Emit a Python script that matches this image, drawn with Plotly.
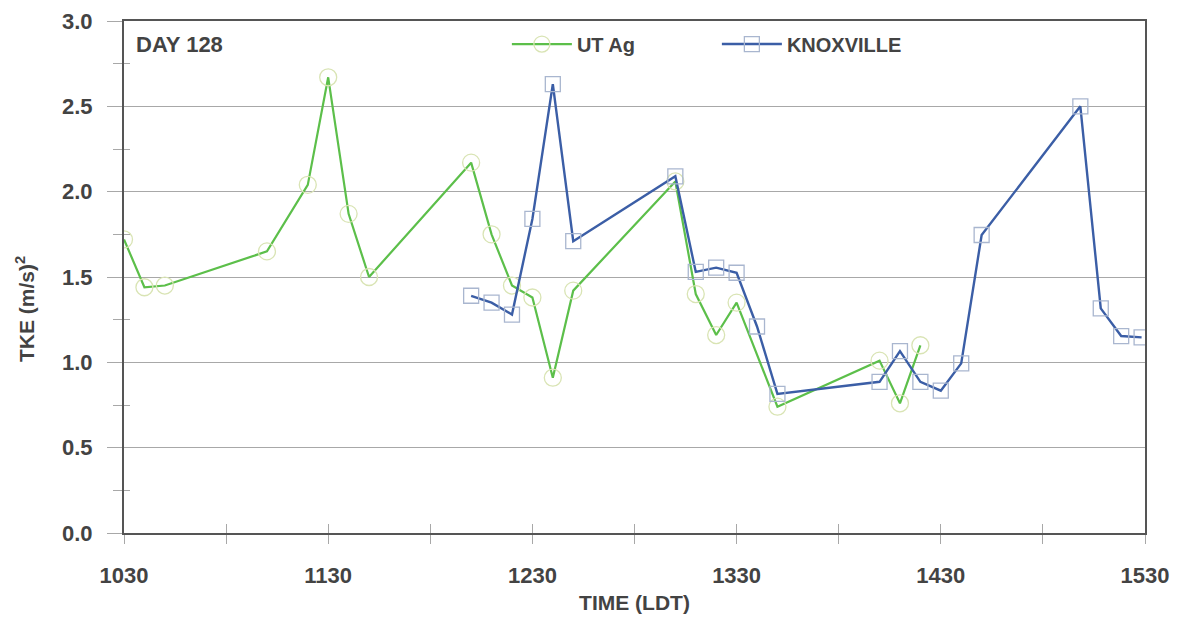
import plotly.graph_objects as go

# ---- data (times in HHMM local daylight time, TKE in (m/s)^2) ----
utag_time = [1030, 1036, 1042, 1112, 1124, 1130, 1136, 1142, 1212, 1218, 1224,
             1230, 1236, 1242, 1312, 1318, 1324, 1330, 1342, 1412, 1418, 1424]
utag_tke = [1.72, 1.44, 1.45, 1.65, 2.04, 2.67, 1.87, 1.50, 2.17, 1.75, 1.45,
            1.38, 0.91, 1.42, 2.06, 1.40, 1.16, 1.35, 0.74, 1.01, 0.76, 1.10]

knox_time = [1212, 1218, 1224, 1230, 1236, 1242, 1312, 1318, 1324, 1330, 1336,
             1342, 1412, 1418, 1424, 1430, 1436, 1442, 1511, 1517, 1523, 1529]
knox_tke = [1.39, 1.35, 1.28, 1.84, 2.63, 1.71, 2.09, 1.53, 1.555, 1.525, 1.21,
            0.815, 0.886, 1.066, 0.886, 0.834, 0.994, 1.746, 2.50, 1.316, 1.154, 1.146]

tick_labels = ["1030", "1130", "1230", "1330", "1430", "1530"]
y_ticks = [0.0, 0.5, 1.0, 1.5, 2.0, 2.5, 3.0]
y_minor = [0.25, 0.75, 1.25, 1.75, 2.25, 2.75]


def to_min(hhmm):
    return (hhmm // 100) * 60 + hhmm % 100 - 630


tick_vals = [to_min(int(t)) for t in tick_labels]
half_vals = [v + 30 for v in tick_vals[:-1]]
all_x_ticks = tick_vals + half_vals

FONT = "Liberation Sans, Arial, sans-serif"
TXT = "#434343"
GRID = "#a8a8a8"
AX = "#555555"

fig = go.Figure()
fig.add_trace(go.Scatter(
    x=[to_min(t) for t in utag_time], y=utag_tke, name="UT Ag",
    mode="lines+markers",
    line=dict(color="#5cbf4a", width=2.2),
    marker=dict(symbol="circle-open", size=17, color="#d9e4b4", line=dict(width=1.3)),
))
fig.add_trace(go.Scatter(
    x=[to_min(t) for t in knox_time], y=knox_tke, name="KNOXVILLE",
    mode="lines+markers",
    line=dict(color="#3b5ea6", width=2.4),
    marker=dict(symbol="square-open", size=15, color="#a9b6cf", line=dict(width=1.3)),
))

fig.update_layout(
    width=1177, height=619,
    margin=dict(l=124, r=32, t=21, b=86),
    paper_bgcolor="white", plot_bgcolor="white",
    font=dict(family=FONT, color=TXT, size=20),
    showlegend=True,
    legend=dict(orientation="h", x=0.375, y=0.955, xanchor="left", yanchor="middle",
                font=dict(family=FONT, size=20, color=TXT, weight="bold"),
                bgcolor="rgba(0,0,0,0)", itemwidth=60, entrywidth=135,
                tracegroupgap=0),
    xaxis=dict(
        range=[0, 300], tickvals=tick_vals, ticktext=tick_labels,
        ticks="outside", ticklen=9, tickcolor=GRID, tickwidth=1,
        minor=dict(tickvals=half_vals, ticks="outside", ticklen=9,
                   tickcolor=GRID, showgrid=False),
        ticklabelstandoff=13, automargin=False,
        showgrid=False, zeroline=False,
        showline=True, linecolor=AX, linewidth=2, mirror=False,
        tickfont=dict(family=FONT, size=22, color=TXT, weight="bold"),
        title=dict(text="TIME (LDT)", standoff=8,
                   font=dict(family=FONT, size=21, color=TXT, weight="bold")),
    ),
    xaxis2=dict(
        range=[0, 300], overlaying="x", side="bottom", anchor="y",
        tickvals=all_x_ticks, showticklabels=False, automargin=False,
        ticks="inside", ticklen=9, tickcolor=GRID, tickwidth=1,
        showgrid=False, zeroline=False, showline=False,
    ),
    yaxis=dict(
        range=[0, 3.0], tickvals=y_ticks,
        ticktext=[f"{v:.1f}" for v in y_ticks],
        ticks="outside", ticklen=15, tickcolor=GRID, tickwidth=1,
        minor=dict(tickvals=y_minor, ticks="outside", ticklen=9,
                   tickcolor=GRID, showgrid=False),
        ticklabelstandoff=10, automargin=False,
        showgrid=True, gridcolor=GRID, gridwidth=1.2,
        zeroline=False, showline=True, linecolor=AX, linewidth=2,
        tickfont=dict(family=FONT, size=22, color=TXT, weight="bold"),
    ),
    yaxis2=dict(
        range=[0, 3.0], overlaying="y", side="left", anchor="x",
        tickvals=y_minor, showticklabels=False, ticks="inside", ticklen=6,
        tickcolor=GRID, showgrid=False, zeroline=False, showline=False,
        automargin=False,
    ),
    yaxis3=dict(
        range=[0, 3.0], overlaying="y", side="right", anchor="x",
        showticklabels=False, ticks="", showgrid=False, zeroline=False,
        showline=True, linecolor=AX, linewidth=2, automargin=False,
    ),
    xaxis3=dict(
        range=[0, 300], overlaying="x", side="top", anchor="y",
        showticklabels=False, ticks="", showgrid=False, zeroline=False,
        showline=True, linecolor=AX, linewidth=2, automargin=False,
    ),
)

# invisible helper traces so overlay axes are rendered
fig.add_trace(go.Scatter(x=[0], y=[0], xaxis="x2", yaxis="y2", mode="markers",
                         marker=dict(opacity=0), showlegend=False, hoverinfo="skip"))
fig.add_trace(go.Scatter(x=[0], y=[0], xaxis="x3", yaxis="y3", mode="markers",
                         marker=dict(opacity=0), showlegend=False, hoverinfo="skip"))

fig.add_annotation(
    text="DAY 128", xref="paper", yref="paper", x=0.01, y=0.955,
    xanchor="left", yanchor="middle", showarrow=False,
    font=dict(family=FONT, size=22, color=TXT, weight="bold"),
)
fig.add_annotation(
    text="TKE (m/s)<sup>2</sup>", xref="paper", yref="paper", x=-0.097, y=0.4375,
    xanchor="center", yanchor="middle", textangle=-90, showarrow=False,
    font=dict(family=FONT, size=21, color=TXT, weight="bold"),
)

fig.write_html("out.html")
